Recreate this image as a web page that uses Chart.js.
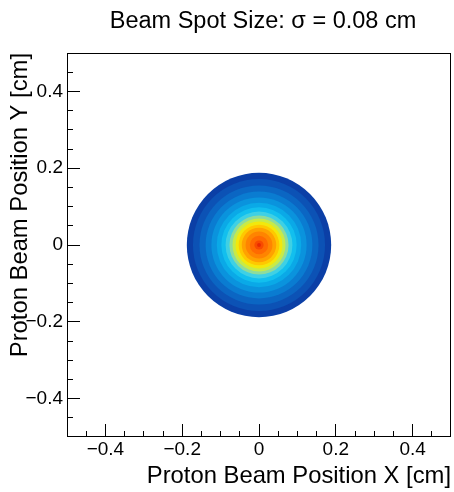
<!DOCTYPE html>
<html><head><meta charset="utf-8">
<script src="https://cdn.jsdelivr.net/npm/chart.js@4.4.0/dist/chart.umd.min.js"></script>
<style>html,body{margin:0;padding:0;background:#fff;}canvas{display:block;}</style>
</head><body>
<canvas id="c" width="454" height="492"></canvas>
<script>
// ---- data ----
const chartTitle = 'Beam Spot Size: \u03c3 = 0.08 cm';
const xAxisTitle = 'Proton Beam Position X [cm]';
const yAxisTitle = 'Proton Beam Position Y [cm]';
const axisMin = -0.5;
const axisMax = 0.5;
const majorTicks = [-0.4, -0.2, 0, 0.2, 0.4];
const majorTickLabels = ['\u22120.4', '\u22120.2', '0', '0.2', '0.4'];
const minorTicks = [-0.45, -0.35, -0.3, -0.25, -0.15, -0.1, -0.05, 0.05, 0.1, 0.15, 0.25, 0.3, 0.35, 0.45];
const beamCenterX = 0;
const beamCenterY = 0;
// colour contour bands, outer radius in cm (outermost first)
const bandOuterRadius = [0.188, 0.172, 0.155, 0.139, 0.124, 0.110, 0.098, 0.087, 0.077, 0.069, 0.061, 0.053, 0.045, 0.035, 0.024, 0.012, 0.005];
const bandColors = ['#0b3fa6', '#0c52b5', '#0b66c3', '#0a7cd1', '#0a93dd', '#0aa9e7', '#12bfee', '#3fd0e4', '#8edc9c', '#c8ea48', '#f2e80c', '#ffc800', '#ffa200', '#ff8400', '#ff6a00', '#f84a00', '#e82a00'];

const FONT = "'Liberation Sans', Arial, Helvetica, sans-serif";
Chart.defaults.font.family = FONT;
Chart.defaults.color = '#000';

function pxRadius(ctx) {
  const xs = ctx.chart.scales.x;
  const r = bandOuterRadius[ctx.dataIndex];
  return Math.abs(xs.getPixelForValue(beamCenterX + r) - xs.getPixelForValue(beamCenterX));
}

const frameAndTitle = {
  id: 'frameAndTitle',
  afterDraw(chart) {
    const {ctx, chartArea: a} = chart;
    ctx.save();
    ctx.strokeStyle = '#000';
    ctx.lineWidth = 1;
    ctx.strokeRect(Math.round(a.left) + 0.5, Math.round(a.top) + 0.5, Math.round(a.right - a.left) - 1, Math.round(a.bottom - a.top) - 1);
    ctx.fillStyle = '#000';
    ctx.font = '23.5px ' + FONT;
    ctx.textAlign = 'center';
    ctx.textBaseline = 'alphabetic';
    ctx.fillText(chartTitle, (a.left + a.right) / 2 + 4, 28);
    ctx.restore();
  }
};

const majorBuild = s => { s.ticks = majorTicks.map(v => ({value: v})); };
const minorBuild = s => { s.ticks = minorTicks.map(v => ({value: v})); };
const labelFor = v => majorTickLabels[majorTicks.indexOf(v)];

new Chart(document.getElementById('c'), {
  type: 'scatter',
  data: {
    datasets: [{
      label: 'beam spot',
      data: bandOuterRadius.map(() => ({x: beamCenterX, y: beamCenterY})),
      pointRadius: pxRadius,
      pointHoverRadius: pxRadius,
      pointBackgroundColor: bandColors,
      pointBorderWidth: 0,
      pointBorderColor: 'rgba(0,0,0,0)'
    }]
  },
  options: {
    responsive: false,
    animation: false,
    events: [],
    devicePixelRatio: 1,
    layout: {padding: {top: 53, right: 3, left: 0, bottom: 0}},
    plugins: {legend: {display: false}, tooltip: {enabled: false}, title: {display: false}},
    scales: {
      x: {
        type: 'linear', position: 'bottom', weight: 1, min: axisMin, max: axisMax,
        afterBuildTicks: majorBuild,
        ticks: {callback: labelFor, padding: 14, font: {size: 19}, color: '#000', maxRotation: 0, autoSkip: false},
        grid: {drawOnChartArea: false, drawTicks: true, tickLength: -13, tickColor: '#000', tickWidth: 1},
        border: {display: false},
        title: {display: true, text: xAxisTitle, align: 'end', font: {size: 23.8}, color: '#000', padding: {top: 0, bottom: 1}},
        afterFit: s => { s.height = 55; }
      },
      xMinor: {
        type: 'linear', position: 'bottom', weight: 0, min: axisMin, max: axisMax,
        afterBuildTicks: minorBuild,
        ticks: {display: false},
        grid: {drawOnChartArea: false, drawTicks: true, tickLength: -6, tickColor: '#000', tickWidth: 1},
        border: {display: false},
        afterFit: s => { s.height = 0; }
      },
      y: {
        type: 'linear', position: 'left', weight: 1, min: axisMin, max: axisMax,
        afterBuildTicks: majorBuild,
        ticks: {callback: labelFor, padding: 17, font: {size: 19}, color: '#000', autoSkip: false},
        grid: {drawOnChartArea: false, drawTicks: true, tickLength: -13, tickColor: '#000', tickWidth: 1},
        border: {display: false},
        title: {display: true, text: yAxisTitle, align: 'end', font: {size: 23.8}, color: '#000', padding: {top: 6, bottom: 0}},
        afterFit: s => { s.width = 67; }
      },
      yMinor: {
        type: 'linear', position: 'left', weight: 0, min: axisMin, max: axisMax,
        afterBuildTicks: minorBuild,
        ticks: {display: false},
        grid: {drawOnChartArea: false, drawTicks: true, tickLength: -6, tickColor: '#000', tickWidth: 1},
        border: {display: false},
        afterFit: s => { s.width = 0; }
      }
    }
  },
  plugins: [frameAndTitle]
});
</script>
</body></html>
